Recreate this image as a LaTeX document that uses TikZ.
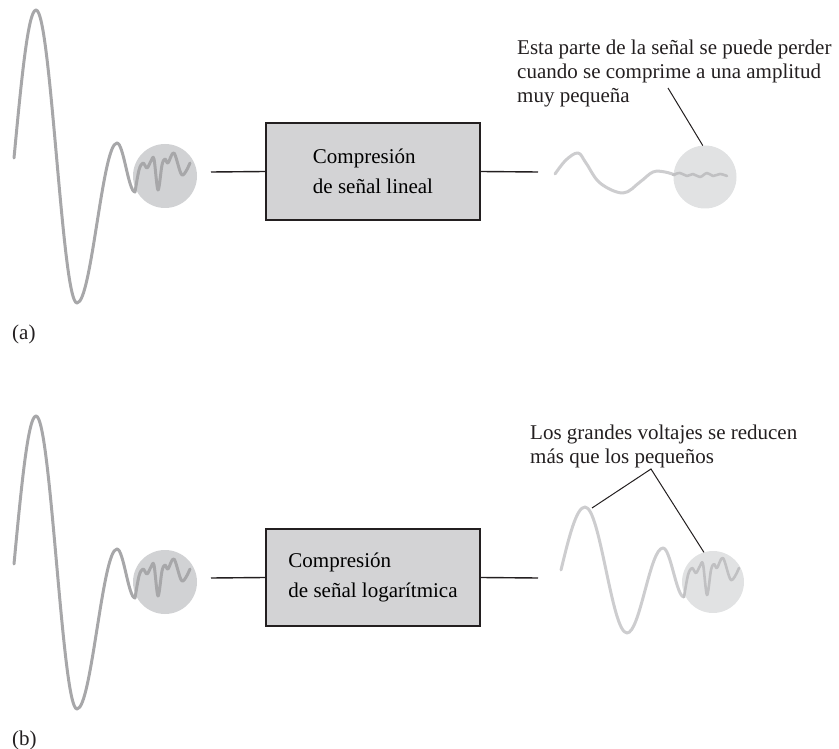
\documentclass[tikz,border=0pt]{standalone}
\usepackage{fontspec}
\setmainfont{Liberation Serif}
\definecolor{waveA}{HTML}{A7A7A9}
\definecolor{circA}{HTML}{D1D2D4}
\definecolor{waveB}{HTML}{CDCDCF}
\definecolor{circB}{HTML}{E1E2E3}
\definecolor{squigB}{HTML}{C0C0C2}
\definecolor{boxfill}{HTML}{D3D3D5}
\definecolor{ink}{HTML}{231F20}
\begin{document}
\begin{tikzpicture}[x=1pt,y=-1pt,
  wave/.style={line width=3pt, line cap=round, line join=round},
  squig/.style={line width=2.6pt, line cap=round, line join=round},
  blob/.style={circle, inner sep=0pt, outer sep=0pt, minimum size=64pt},
  box/.style={draw=ink, line width=2.2pt, fill=boxfill, minimum width=214pt,
    minimum height=97pt, inner sep=0pt, align=left, font=\fontsize{21}{30}\selectfont},
  conn/.style={draw=ink, line width=1.4pt},
  leader/.style={draw=ink, line width=1pt},
  note/.style={anchor=base west, inner sep=0pt, align=left, font=\fontsize{21}{24}\selectfont, text=ink}]
\useasboundingbox (0,0) rectangle (839,749);

% ---------------- (a) ----------------
\node[blob, fill=circA] (cA1) at (165,176) {};
\node[blob, fill=circB, minimum size=63pt] (cA2) at (705,177) {};
\draw[wave, waveA] (14,158) sin (36,10) cos (56.5,156.5) sin (77,303) cos (97,223) sin (117,143) cos (126,167.5) sin (135,192)
  -- plot[smooth, tension=0.55] coordinates {(135,192) (139,170) (143,163) (147,168) (151,161) (154,159) (158,190) (162,165) (165,159) (168,163) (174,153) (182,175) (190,163)};
\draw[wave, waveB] plot[smooth, tension=0.6] coordinates {(555,174) (566,160) (578,153) (586,163) (600,183) (623,193) (640,182) (653,172) (665,172) (675,175)};
\draw[squig, squigB] plot[smooth, tension=0.6] coordinates {(673,175) (680,173) (687,176) (693,174) (700,177) (707,173) (713,176) (720,174) (727,176)};

\node[box] (boxA) at (373,171.5) {Compresión\\de señal lineal};
\coordinate (inA) at (211,172);
\coordinate (outA) at (538,172);
\draw[conn] (inA) -- (boxA.west);
\draw[conn] (boxA.east) -- (outA);

\node[note] (noteA) at (517,103) {Esta parte de la señal se puede perder\\cuando se comprime a una amplitud\\muy pequeña};
\coordinate (leadA) at (668,88);
\draw[leader] (leadA) -- (cA2.94);

\node[note] (labA) at (12,339) {(a)};

% ---------------- (b) ----------------
\node[blob, fill=circA] (cB1) at (165,582) {};
\node[blob, fill=circB, minimum size=62pt] (cB2) at (713,582) {};
\draw[wave, waveA] (14,564) sin (36,416) cos (56.5,562.5) sin (77,709) cos (97,629) sin (117,549) cos (126,573.5) sin (135,598)
  -- plot[smooth, tension=0.55] coordinates {(135,598) (139,576) (143,569) (147,574) (151,567) (154,565) (158,596) (162,571) (165,565) (168,569) (174,559) (182,581) (190,569)};
\draw[wave, waveB] (561,570) sin (585,507) cos (606,570) sin (627,633) cos (645,590.5) sin (663,548) cos (673.5,572.5) sin (684,597);
\draw[squig, squigB] plot[smooth, tension=0.55] coordinates {(684,597) (688,575) (692,568) (696,573) (700,566) (703,564) (707,595) (711,570) (714,564) (717,568) (723,558) (731,580) (739,568)};

\node[box] (boxB) at (373,577.5) {Compresión\\de señal logarítmica};
\coordinate (inB) at (211,578);
\coordinate (outB) at (538,578);
\draw[conn] (inB) -- (boxB.west);
\draw[conn] (boxB.east) -- (outB);

\node[note] (noteB) at (530,463) {Los grandes voltajes se reducen\\más que los pequeños};
\coordinate (apexB) at (651,469);
\coordinate (peakB) at (592,508);
\draw[leader] (peakB) -- (apexB) -- (cB2.107);

\node[note] (labB) at (12,745) {(b)};
\end{tikzpicture}
\end{document}
